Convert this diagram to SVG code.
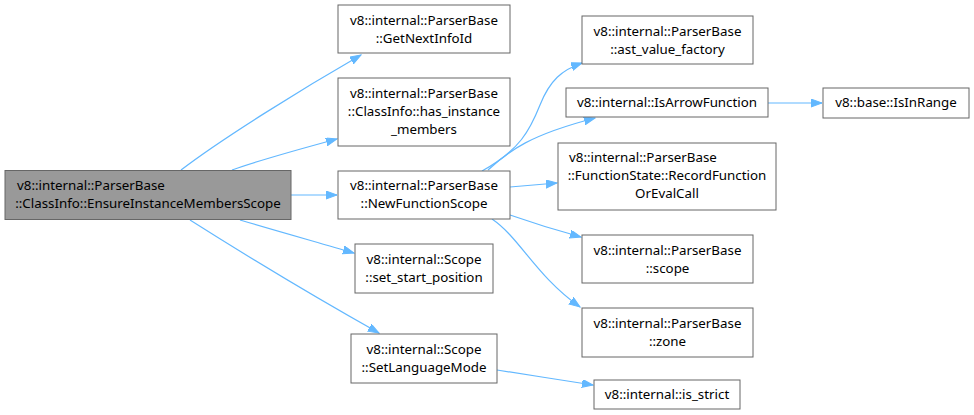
<svg xmlns="http://www.w3.org/2000/svg" width="974" height="415" viewBox="0 0 974 415">
<style>
.n rect{fill:#fff;stroke:#666;stroke-width:1}
.m rect{fill:#999;stroke:#666;stroke-width:1}
text{font-family:"Noto Sans","Open Sans","DejaVu Sans",sans-serif;font-size:13.33px;fill:#000}
.c{text-anchor:middle}
.e path{fill:none;stroke:#63b8ff;stroke-width:1.2}
</style>
<defs>
<marker id="ah" markerUnits="userSpaceOnUse" markerWidth="12" markerHeight="10" refX="11" refY="4" orient="auto">
<path d="M0,0 L11,4 L0,8 z" fill="#63b8ff" stroke="#63b8ff"/>
</marker>
</defs>
<rect width="974" height="415" fill="#fff"/>
<g class="e" id="edges">
<path d="M181,170 C220,140 300,90 361,55" marker-end="url(#ah)"/>
<path d="M232,170 C260,160 300,149 337,139" marker-end="url(#ah)"/>
<path d="M291,195 L337,195" marker-end="url(#ah)"/>
<path d="M240,220 C280,232 320,243 354,253" marker-end="url(#ah)"/>
<path d="M190,220 C250,258 320,300 379,333" marker-end="url(#ah)"/>
<path d="M482,171 C520,150 530,130 540,105 C550,80 562,70 582,63" marker-end="url(#ah)"/>
<path d="M488,170 C510,150 530,135 595,118" marker-end="url(#ah)"/>
<path d="M510,187 L557,183" marker-end="url(#ah)"/>
<path d="M510,215 C530,222 555,230 581,237" marker-end="url(#ah)"/>
<path d="M492,219 C520,238 535,275 580,307" marker-end="url(#ah)"/>
<path d="M768,103 L822,103" marker-end="url(#ah)"/>
<path d="M497,370 C530,375 560,380 593,385" marker-end="url(#ah)"/>
</g>
<g id="main" class="m">
<rect x="5" y="170.5" width="286" height="49"/>
<text x="17" y="190">v8::internal::ParserBase</text>
<text x="148" y="208" class="c">::ClassInfo::EnsureInstanceMembersScope</text>
</g>
<g id="getNextInfoId" class="n">
<rect x="338" y="5" width="172" height="48"/>
<text x="424" y="25" class="c">v8::internal::ParserBase</text>
<text x="424" y="43" class="c">::GetNextInfoId</text>
</g>
<g id="hasInstanceMembers" class="n">
<rect x="338" y="78" width="172" height="68"/>
<text x="424" y="98" class="c">v8::internal::ParserBase</text>
<text x="424" y="116" class="c">::ClassInfo::has_instance</text>
<text x="424" y="134" class="c">_members</text>
</g>
<g id="newFunctionScope" class="n">
<rect x="338" y="171" width="172" height="48"/>
<text x="424" y="190" class="c">v8::internal::ParserBase</text>
<text x="424" y="208" class="c">::NewFunctionScope</text>
</g>
<g id="setStartPosition" class="n">
<rect x="355" y="244" width="138" height="49"/>
<text x="424" y="264" class="c">v8::internal::Scope</text>
<text x="424" y="282" class="c">::set_start_position</text>
</g>
<g id="setLanguageMode" class="n">
<rect x="351" y="334" width="146" height="49"/>
<text x="424" y="354" class="c">v8::internal::Scope</text>
<text x="424" y="372" class="c">::SetLanguageMode</text>
</g>
<g id="astValueFactory" class="n">
<rect x="582" y="16" width="171" height="48"/>
<text x="667.5" y="36" class="c">v8::internal::ParserBase</text>
<text x="667.5" y="54" class="c">::ast_value_factory</text>
</g>
<g id="isArrowFunction" class="n">
<rect x="566" y="88" width="202" height="29"/>
<text x="667" y="107" class="c">v8::internal::IsArrowFunction</text>
</g>
<g id="recordFunctionOrEvalCall" class="n">
<rect x="558" y="143" width="218" height="67"/>
<text x="569" y="162">v8::internal::ParserBase</text>
<text x="667" y="180" class="c">::FunctionState::RecordFunction</text>
<text x="667" y="198" class="c">OrEvalCall</text>
</g>
<g id="scope" class="n">
<rect x="582" y="235" width="171" height="48"/>
<text x="667.5" y="255" class="c">v8::internal::ParserBase</text>
<text x="667.5" y="273" class="c">::scope</text>
</g>
<g id="zone" class="n">
<rect x="582" y="308" width="171" height="49"/>
<text x="667.5" y="328" class="c">v8::internal::ParserBase</text>
<text x="667.5" y="346" class="c">::zone</text>
</g>
<g id="isStrict" class="n">
<rect x="594" y="380" width="146" height="29"/>
<text x="667" y="399" class="c">v8::internal::is_strict</text>
</g>
<g id="isInRange" class="n">
<rect x="823" y="88" width="146" height="30"/>
<text x="896" y="107" class="c">v8::base::IsInRange</text>
</g>
</svg>
